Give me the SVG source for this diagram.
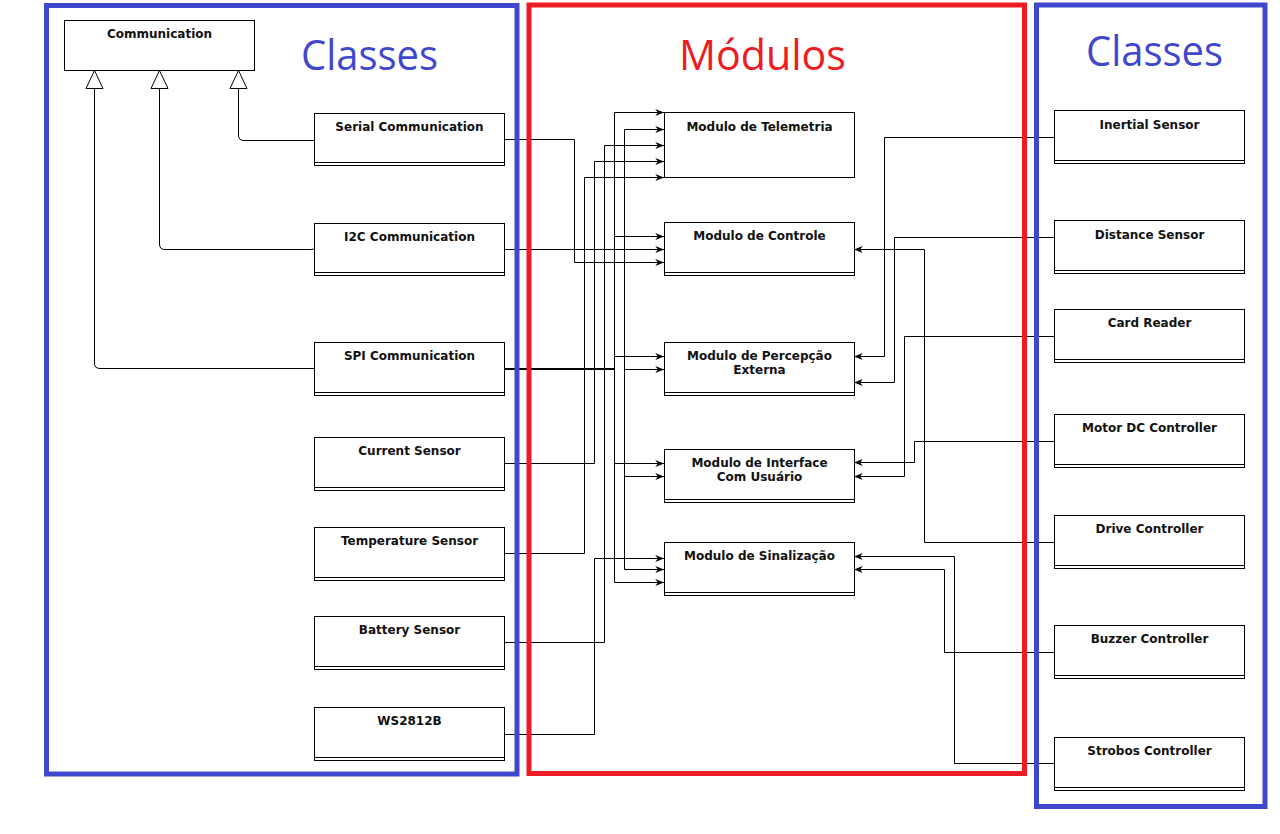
<svg xmlns="http://www.w3.org/2000/svg" width="1280" height="834" viewBox="0 0 1280 834">
<style>
.box{fill:#fff;stroke:#000;stroke-width:1}
.sep{stroke:#000;stroke-width:1}
.lbl{font-family:"DejaVu Sans",Verdana,sans-serif;font-weight:bold;font-size:12px;fill:#111;text-anchor:middle}
.title{font-family:"Open Sans","Noto Sans",sans-serif;font-size:42px}
.c{fill:none;stroke:#000;stroke-width:1}
.thick{stroke-width:2}
.a{marker-end:url(#arr)}
.frame{fill:none;stroke-width:5}
</style>
<defs>
<marker id="arr" markerUnits="userSpaceOnUse" viewBox="0 0 10 8" refX="10" refY="4" markerWidth="9" markerHeight="7" orient="auto">
<path d="M0,0 L10,4 L0,8 L3,4 z" fill="#000"/>
</marker>
</defs>
<rect width="1280" height="834" fill="#fff"/>

<g id="connectors">
<!-- inheritance -->
<path class="c" d="M314,140.5 H244 Q238.5,140.5 238.5,135 V88" />
<path class="c" d="M316,245 Q316,249.5 311,249.5 H165 Q159.5,249.5 159.5,244 V88" />
<path class="c" d="M314,368.5 H100 Q94.5,368.5 94.5,363 V88" />
<path d="M238.5,70.5 L247,88.5 L230,88.5 z" fill="#fff" stroke="#000"/>
<path d="M159.5,70.5 L168,88.5 L151,88.5 z" fill="#fff" stroke="#000"/>
<path d="M94.5,70.5 L103,88.5 L86,88.5 z" fill="#fff" stroke="#000"/>

<!-- left sources to modules -->
<path class="c a" d="M504,139.5 H574.5 V262.5 H664"/>
<path class="c a" d="M504,249.5 H664"/>
<path class="c thick" d="M504,369 H614.5"/>
<path class="c" d="M614.5,112.5 V582.5"/>
<path class="c a" d="M614.5,112.5 H664"/>
<path class="c a" d="M614.5,236.5 H664"/>
<path class="c a" d="M614.5,356.5 H664"/>
<path class="c a" d="M614.5,463.5 H664"/>
<path class="c a" d="M614.5,582.5 H664"/>
<path class="c" d="M624.5,129.5 V569.5"/>
<path class="c a" d="M624.5,129.5 H664"/>
<path class="c a" d="M624.5,369.5 H664"/>
<path class="c a" d="M624.5,476.5 H664"/>
<path class="c a" d="M624.5,569.5 H664"/>
<path class="c a" d="M504,463.5 H594.5 V161.5 H664"/>
<path class="c a" d="M504,553.5 H584.5 V177.5 H664"/>
<path class="c a" d="M504,642.5 H604.5 V145.5 H664"/>
<path class="c a" d="M504,734.5 H594.5 V558.5 H664"/>

<!-- right sources to modules -->
<path class="c a" d="M1054,137.5 H884.5 V356.5 H854"/>
<path class="c a" d="M1054,237.5 H894.5 V382.5 H854"/>
<path class="c a" d="M1054,336.5 H904.5 V476.5 H854"/>
<path class="c a" d="M1054,441.5 H914.5 V462.5 H854"/>
<path class="c a" d="M1054,542.5 H924.5 V249.5 H854"/>
<path class="c a" d="M1054,652.5 H944.5 V569.5 H854"/>
<path class="c a" d="M1054,763.5 H954.5 V556.5 H854"/>
</g>

<!-- left classes -->
<g id="communication"><rect class="box" x="64.5" y="20.5" width="190" height="50"/><text class="lbl" x="159.5" y="38">Communication</text></g>
<g id="serial"><rect class="box" x="314.5" y="113.5" width="190" height="52"/><line class="sep" x1="314.5" y1="162.5" x2="504.5" y2="162.5"/><text class="lbl" x="409.5" y="130.5">Serial Communication</text></g>
<g id="i2c"><rect class="box" x="314.5" y="223.5" width="190" height="52"/><line class="sep" x1="314.5" y1="272.5" x2="504.5" y2="272.5"/><text class="lbl" x="409.5" y="241">I2C Communication</text></g>
<g id="spi"><rect class="box" x="314.5" y="342.5" width="190" height="53"/><line class="sep" x1="314.5" y1="392.5" x2="504.5" y2="392.5"/><text class="lbl" x="409.5" y="359.5">SPI Communication</text></g>
<g id="current"><rect class="box" x="314.5" y="437.5" width="190" height="53"/><line class="sep" x1="314.5" y1="487.5" x2="504.5" y2="487.5"/><text class="lbl" x="409.5" y="455">Current Sensor</text></g>
<g id="temperature"><rect class="box" x="314.5" y="527.5" width="190" height="53"/><line class="sep" x1="314.5" y1="577.5" x2="504.5" y2="577.5"/><text class="lbl" x="409.5" y="545">Temperature Sensor</text></g>
<g id="battery"><rect class="box" x="314.5" y="616.5" width="190" height="53"/><line class="sep" x1="314.5" y1="666.5" x2="504.5" y2="666.5"/><text class="lbl" x="409.5" y="634">Battery Sensor</text></g>
<g id="ws2812b"><rect class="box" x="314.5" y="707.5" width="190" height="53"/><line class="sep" x1="314.5" y1="757.5" x2="504.5" y2="757.5"/><text class="lbl" x="409.5" y="725">WS2812B</text></g>

<!-- modules -->
<g id="telemetria"><rect class="box" x="664.5" y="112.5" width="190" height="65"/><text class="lbl" x="759.5" y="130.5">Modulo de Telemetria</text></g>
<g id="controle"><rect class="box" x="664.5" y="222.5" width="190" height="53"/><line class="sep" x1="664.5" y1="272.5" x2="854.5" y2="272.5"/><text class="lbl" x="759.5" y="240">Modulo de Controle</text></g>
<g id="percepcao"><rect class="box" x="664.5" y="342.5" width="190" height="53"/><line class="sep" x1="664.5" y1="392.5" x2="854.5" y2="392.5"/><text class="lbl" x="759.5" y="360">Modulo de Percepção</text><text class="lbl" x="759.5" y="374">Externa</text></g>
<g id="interface"><rect class="box" x="664.5" y="449.5" width="190" height="53"/><line class="sep" x1="664.5" y1="499.5" x2="854.5" y2="499.5"/><text class="lbl" x="759.5" y="466.5">Modulo de Interface</text><text class="lbl" x="759.5" y="480.5">Com Usuário</text></g>
<g id="sinalizacao"><rect class="box" x="664.5" y="542.5" width="190" height="53"/><line class="sep" x1="664.5" y1="592.5" x2="854.5" y2="592.5"/><text class="lbl" x="759.5" y="560">Modulo de Sinalização</text></g>

<!-- right classes -->
<g id="inertial"><rect class="box" x="1054.5" y="110.5" width="190" height="53"/><line class="sep" x1="1054.5" y1="160.5" x2="1244.5" y2="160.5"/><text class="lbl" x="1149.5" y="128.5">Inertial Sensor</text></g>
<g id="distance"><rect class="box" x="1054.5" y="220.5" width="190" height="53"/><line class="sep" x1="1054.5" y1="270.5" x2="1244.5" y2="270.5"/><text class="lbl" x="1149.5" y="238.5">Distance Sensor</text></g>
<g id="cardreader"><rect class="box" x="1054.5" y="309.5" width="190" height="53"/><line class="sep" x1="1054.5" y1="359.5" x2="1244.5" y2="359.5"/><text class="lbl" x="1149.5" y="327">Card Reader</text></g>
<g id="motordc"><rect class="box" x="1054.5" y="414.5" width="190" height="53"/><line class="sep" x1="1054.5" y1="464.5" x2="1244.5" y2="464.5"/><text class="lbl" x="1149.5" y="432">Motor DC Controller</text></g>
<g id="drive"><rect class="box" x="1054.5" y="515.5" width="190" height="53"/><line class="sep" x1="1054.5" y1="565.5" x2="1244.5" y2="565.5"/><text class="lbl" x="1149.5" y="533">Drive Controller</text></g>
<g id="buzzer"><rect class="box" x="1054.5" y="625.5" width="190" height="53"/><line class="sep" x1="1054.5" y1="675.5" x2="1244.5" y2="675.5"/><text class="lbl" x="1149.5" y="643">Buzzer Controller</text></g>
<g id="strobos"><rect class="box" x="1054.5" y="737.5" width="190" height="53"/><line class="sep" x1="1054.5" y1="787.5" x2="1244.5" y2="787.5"/><text class="lbl" x="1149.5" y="755">Strobos Controller</text></g>

<!-- frames and titles -->
<g id="frames">
<rect class="frame" stroke="#3F48CC" x="46.5" y="5.5" width="470.5" height="768.5"/>
<rect class="frame" stroke="#ED1C24" x="529" y="5" width="495.5" height="768.5"/>
<rect class="frame" stroke="#3F48CC" x="1036.5" y="5" width="228.5" height="801.5"/>
<text class="title" fill="#3F48CC" x="301" y="70" textLength="137" lengthAdjust="spacingAndGlyphs">Classes</text>
<text class="title" fill="#ED1C24" x="679" y="70" textLength="167" lengthAdjust="spacingAndGlyphs">Módulos</text>
<text class="title" fill="#3F48CC" x="1086" y="66" textLength="137" lengthAdjust="spacingAndGlyphs">Classes</text>
</g>
</svg>
